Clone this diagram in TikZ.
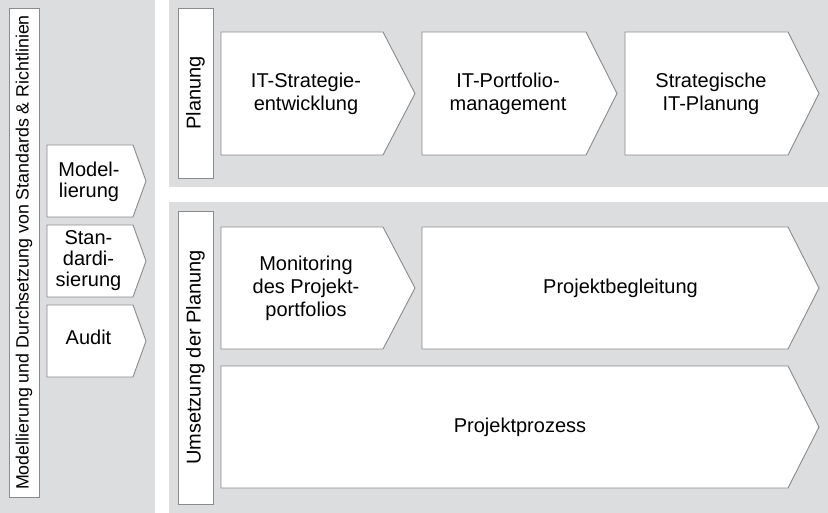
\documentclass[tikz,border=0pt]{standalone}
\usepackage{fontspec}
\setmainfont{Liberation Sans}
\definecolor{panelgrey}{HTML}{DCDDDF}
\definecolor{edgegrey}{HTML}{8A8A8A}
\tikzset{
  panel/.style={fill=panelgrey, draw=none},
  labelbox/.style={fill=white, draw=edgegrey, line width=0.9pt},
  chev/.style={fill=white, draw=edgegrey, line width=0.9pt, line join=miter},
  txt/.style={align=center, font=\fontsize{20}{23}\selectfont, inner sep=0pt},
  smalltxt/.style={align=center, font=\fontsize{20}{21}\selectfont, inner sep=0pt},
  vtxt/.style={rotate=90, font=\fontsize{20}{23}\selectfont, inner sep=0pt},
  vltxt/.style={rotate=90, font=\fontsize{17.8}{20}\selectfont, inner sep=0pt}
}
\begin{document}
\begin{tikzpicture}[x=1pt,y=-1pt]
\useasboundingbox (0,0) rectangle (828,513);
\fill[white] (0,0) rectangle (828,513);
% panels
\path[panel] (0,0) rectangle (155,513);
\path[panel] (169,0) rectangle (828,187);
\path[panel] (169,202) rectangle (828,513);
% vertical label boxes
\draw[labelbox] (9,8) rectangle (39,497);
\node[vltxt] (lbl) at (24,252.5) {Modellierung und Durchsetzung von Standards \& Richtlinien};
\draw[labelbox] (178,8) rectangle (213,178);
\node[vtxt] (plan) at (195.5,93) {Planung};
\draw[labelbox] (178,211) rectangle (213,504);
\node[vtxt] (ums) at (195.5,357.5) {Umsetzung der Planung};
% left chevrons
\draw[chev] (47,145) -- (133,145) -- (146,181) -- (133,217) -- (47,217) -- cycle;
\node[smalltxt] (mod) at (89,182) {Model-\\lierung};
\draw[chev] (47,225) -- (133,225) -- (146,261) -- (133,297) -- (47,297) -- cycle;
\node[smalltxt] (std) at (88.5,261) {Stan-\\dardi-\\sierung};
\draw[chev] (47,305) -- (133,305) -- (146,341) -- (133,377) -- (47,377) -- cycle;
\node[smalltxt] (aud) at (88.5,337) {Audit};
% planning chevrons
\draw[chev] (221,32) -- (383,32) -- (415,93.5) -- (383,155) -- (221,155) -- cycle;
\node[txt] (its) at (306,93.5) {IT-Strategie-\\entwicklung};
\draw[chev] (422,32) -- (586,32) -- (617,93.5) -- (586,155) -- (422,155) -- cycle;
\node[txt] (itp) at (508,93.5) {IT-Portfolio-\\management};
\draw[chev] (625,32) -- (788,32) -- (819,93.5) -- (788,155) -- (625,155) -- cycle;
\node[txt] (sip) at (711,93.5) {Strategische\\IT-Planung};
% implementation chevrons
\draw[chev] (221,227) -- (383,227) -- (415,288) -- (383,349) -- (221,349) -- cycle;
\node[txt] (mon) at (306,288) {Monitoring\\des Projekt-\\portfolios};
\draw[chev] (422,227) -- (788,227) -- (819,288) -- (788,349) -- (422,349) -- cycle;
\node[txt] (pb) at (620.5,288) {Projektbegleitung};
\draw[chev] (221,366) -- (788,366) -- (819,427) -- (788,488) -- (221,488) -- cycle;
\node[txt] (pp) at (520,427) {Projektprozess};
\end{tikzpicture}
\end{document}
